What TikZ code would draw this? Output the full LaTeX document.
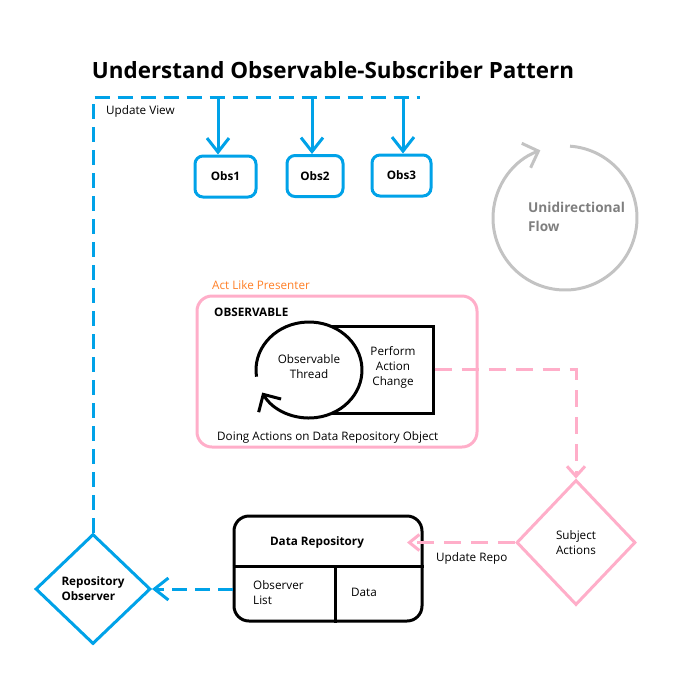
\documentclass[tikz,border=0pt]{standalone}
\usepackage{fontspec}
\setmainfont{Open Sans}
\usepackage{tikz}
\usetikzlibrary{calc,shapes.geometric,arrows.meta}
\usepackage{xcolor}
\definecolor{paintblue}{RGB}{0,162,232}
\definecolor{paintrose}{RGB}{255,174,201}
\definecolor{paintorange}{RGB}{255,127,39}
\definecolor{paintgray}{RGB}{195,195,195}
\definecolor{flowgray}{RGB}{127,127,127}

\begin{document}
\begin{tikzpicture}[x=1pt,y=-1pt,
    every node/.style={inner sep=0pt,font=\fontsize{11.7}{15}\selectfont},
    boldtext/.style={font=\fontsize{11.7}{15}\selectfont\bfseries},
    blueline/.style={draw=paintblue,line width=3pt},
    bluedash/.style={blueline,dash pattern=on 15pt off 8pt},
    pinkdash/.style={draw=paintrose,line width=3pt,dash pattern=on 17pt off 10pt},
    bluetip/.style={-{Straight Barb[length=14pt,width=22pt]}},
    pinktip/.style={-{Straight Barb[length=10pt,width=18pt]}},
    looptip/.style={-{Straight Barb[length=13pt,width=26pt]}},
    obsbox/.style={draw=paintblue,line width=3pt,rounded corners=8pt,minimum height=41pt,boldtext}]

    \useasboundingbox (0,0) rectangle (693,681);

    \node[font=\fontsize{22.4}{26}\selectfont\bfseries] (title) at (333,70) {Understand Observable-Subscriber Pattern};

    % Define the taps on the update view line
    \coordinate (viewend) at (420,97);
    \coordinate (tap1) at (218,97);
    \coordinate (tap2) at (312,97);
    \coordinate (tap3) at (403,97);

    \node[anchor=west] (updateview) at (106,111) {Update View};

    \node[obsbox,minimum width=61pt] (obs1) at (225.5,176.5) {Obs1};
    \node[obsbox,minimum width=56pt] (obs2) at (315,176) {Obs2};
    \node[obsbox,minimum width=59pt] (obs3) at (401.5,175.5) {Obs3};

    \draw[blueline,bluetip] (tap1) -- (tap1 |- obs1.north);
    \draw[blueline,bluetip] (tap2) -- (tap2 |- obs2.north);
    \draw[blueline,bluetip] (tap3) -- (tap3 |- obs3.north);

    % Unidirectional flow
    \coordinate (flow) at (565,218);
    \draw[draw=paintgray,line width=3pt,looptip] ($(flow)+(274:72)$) arc[start angle=274,end angle=610,radius=72];
    \node[anchor=west,align=left,text=flowgray,font=\fontsize{13.6}{19}\selectfont\bfseries] (flowtext) at (528,217) {Unidirectional\\Flow};

    % Presenter box
    \node[draw=paintrose,line width=3pt,rounded corners=15pt,minimum width=280pt,minimum height=151pt] (presenter) at (337,371.5) {};
    \node[anchor=west,text=paintorange] (actlike) at (212,285) {Act Like Presenter};
    \node[anchor=west,boldtext] (observable) at (214,312) {OBSERVABLE};
    \node[anchor=west] (doing) at (217,437) {Doing Actions on Data Repository Object};

    \node[draw,line width=3pt,minimum width=124pt,minimum height=87pt] (action) at (371,369.5) {};
    \coordinate (thread) at (309,370);
    \fill[white] (thread) ellipse[x radius=53,y radius=48];
    \draw[line width=3pt,looptip] ($(thread)+(172:53 and 48)$) arc[start angle=172,end angle=512,x radius=53,y radius=48];
    \node[align=center] (threadtext) at (309,367) {Observable\\Thread};
    \node[align=center] (actiontext) at (393,367) {Perform\\Action\\Change};

    % Subject and repository
    \node[diamond,draw=paintrose,line width=3pt,minimum width=119pt,minimum height=125pt,align=left] (subject) at (576,542.5) {Subject\\Actions};
    \draw[pinkdash,pinktip] (action.east) -| (subject.north);

    \node[draw,line width=3pt,rounded corners=15pt,minimum width=188pt,minimum height=105pt] (repo) at (328,568.5) {};
    \draw[line width=3pt] ($(repo.west)+(0,-2.5)$) -- ($(repo.east)+(0,-2.5)$);
    \draw[line width=3pt] ($(repo.center)+(7,-2.5)$) -- ($(repo.south)+(7,0)$);
    \node[boldtext] (repotitle) at (317,542) {Data Repository};
    \node[anchor=west,align=left] (obslist) at (253,593) {Observer\\List};
    \node (datatext) at (364,592) {Data};

    \coordinate (repoin) at (407,542.5);
    \draw[pinkdash,-{Straight Barb[length=10pt,width=16pt]}] (subject.west) -- (repoin);
    \node[anchor=west] (updaterepo) at (436,558) {Update Repo};

    \node[diamond,draw=paintblue,line width=3pt,minimum width=115pt,minimum height=110pt,align=left,boldtext] (repoobs) at (93,589) {Repository\\Observer};
    \draw[bluedash,bluetip] (repo.west |- repoobs.east) -- (repoobs.east);
    \draw[bluedash] (repoobs.north) |- (viewend);

\end{tikzpicture}
\end{document}
